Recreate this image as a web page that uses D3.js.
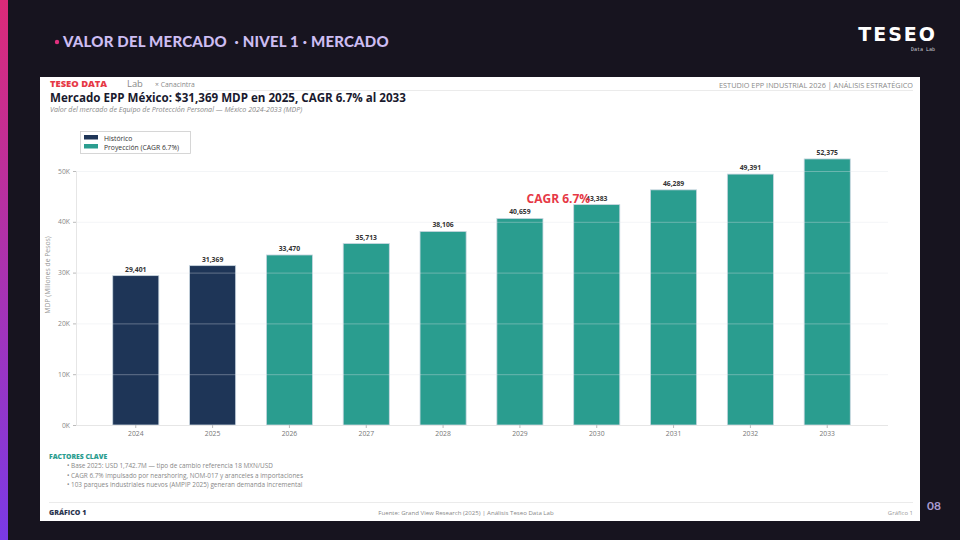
<!DOCTYPE html>
<html><head><meta charset="utf-8">
<script src="https://cdn.jsdelivr.net/npm/d3@7"></script>
<style>
html,body{margin:0;padding:0;background:#17141f;}
svg{display:block;}
</style></head>
<body>
<svg id="c" width="960" height="540"></svg>
<script>
const years = ["2024","2025","2026","2027","2028","2029","2030","2031","2032","2033"];
const values = [29401,31369,33470,35713,38106,40659,43383,46289,49391,52375];
const seriesType = ["Histórico","Histórico","Proyección","Proyección","Proyección","Proyección","Proyección","Proyección","Proyección","Proyección"];
const legendLabels = ["Histórico","Proyección (CAGR 6.7%)"];
const yTicks = [0,10000,20000,30000,40000,50000];
const factores = [
  "• Base 2025: USD 1,742.7M — tipo de cambio referencia 18 MXN/USD",
  "• CAGR 6.7% impulsado por nearshoring, NOM-017 y aranceles a importaciones",
  "• 103 parques industriales nuevos (AMPIP 2025) generan demanda incremental"
];
const colors = {"Histórico":"#1e3557","Proyección":"#2a9d8f"};

const svg = d3.select("#c");
const defs = svg.append("defs");
const lg = defs.append("linearGradient").attr("id","strip").attr("x1",0).attr("y1",0).attr("x2",0).attr("y2",1);
lg.append("stop").attr("offset","0%").attr("stop-color","#dc2a78");
lg.append("stop").attr("offset","100%").attr("stop-color","#7a3ae6");

svg.append("rect").attr("width",960).attr("height",540).attr("fill","#17141f");
svg.append("rect").attr("x",0).attr("y",0).attr("width",8).attr("height",540).attr("fill","url(#strip)");

// top header
svg.append("circle").attr("cx",57).attr("cy",42).attr("r",2.2).attr("fill","#e0307e");
svg.append("text").attr("x",63).attr("y",47).text("VALOR DEL MERCADO  · NIVEL 1 · MERCADO")
  .attr("font-family","Lato, 'Open Sans', sans-serif").attr("font-weight",900).attr("font-size",15)
  .attr("letter-spacing",0.2).attr("fill","#cdbdf2").style("white-space","pre");
svg.append("text").attr("x",937).attr("y",41).attr("text-anchor","end").text("TESEO")
  .attr("font-family","'DejaVu Sans', sans-serif").attr("font-weight",700).attr("font-size",19)
  .attr("letter-spacing",2).attr("fill","#ffffff");
svg.append("text").attr("x",935).attr("y",51).attr("text-anchor","end").text("Data Lab")
  .attr("font-family","'DejaVu Sans Mono', monospace").attr("font-size",5).attr("fill","#cfcfd8");
svg.append("text").attr("x",941).attr("y",510).attr("text-anchor","end").text("08")
  .attr("font-family","Lato, sans-serif").attr("font-weight",700).attr("font-size",12).attr("fill","#a89bd0");

// white panel
svg.append("rect").attr("x",40).attr("y",77).attr("width",880).attr("height",444).attr("fill","#ffffff");

const F = "'Open Sans', 'Noto Sans', sans-serif";
svg.append("text").attr("x",50).attr("y",87).text("TESEO DATA").attr("font-family",F)
  .attr("font-weight",800).attr("font-size",9.4).attr("fill","#e63946");
svg.append("text").attr("x",127).attr("y",87).text("Lab").attr("font-family",F)
  .attr("font-size",9.4).attr("fill","#888");
svg.append("text").attr("x",155).attr("y",86.5).text("× Canacintra").attr("font-family",F)
  .attr("font-size",6.8).attr("fill","#888");
svg.append("text").attr("x",913).attr("y",88).attr("text-anchor","end")
  .text("ESTUDIO EPP INDUSTRIAL 2026 | ANÁLISIS ESTRATÉGICO").attr("font-family",F)
  .attr("font-size",7.3).attr("fill","#888");
svg.append("line").attr("x1",205).attr("x2",913).attr("y1",90.5).attr("y2",90.5).attr("stroke","#e6e6e6").attr("stroke-width",0.8);
svg.append("text").attr("x",50).attr("y",101.5).text("Mercado EPP México: $31,369 MDP en 2025, CAGR 6.7% al 2033")
  .attr("font-family",F).attr("font-weight",700).attr("font-size",11.6).attr("fill","#1a1a2e");
svg.append("text").attr("x",50).attr("y",111.5).text("Valor del mercado de Equipo de Protección Personal — México 2024-2033 (MDP)")
  .attr("font-family",F).attr("font-style","italic").attr("font-size",7.1).attr("fill","#888");

// chart
const x = d3.scaleBand().domain(years).range([82,881]).padding(0.4);
const y = d3.scaleLinear().domain([0,50000]).range([425,171]);
const gridX0 = 76, gridX1 = 888;

svg.append("g").selectAll("rect").data(years).join("rect")
  .attr("x",d=>x(d)).attr("width",x.bandwidth())
  .attr("y",(d,i)=>y(values[i])).attr("height",(d,i)=>y(0)-y(values[i]))
  .attr("fill",(d,i)=>colors[seriesType[i]])
  .attr("stroke","#c9d6e0").attr("stroke-width",0.8);

// grid on top
svg.append("g").selectAll("line").data(yTicks).join("line")
  .attr("x1",gridX0).attr("x2",gridX1).attr("y1",d=>y(d)+0.5).attr("y2",d=>y(d)+0.5)
  .attr("stroke","#dde2e8").attr("stroke-opacity",0.45).attr("stroke-width",0.8);

// y axis
const yAxis = d3.axisLeft(y).tickValues(yTicks).tickFormat(d=>(d/1000)+"K").tickSize(3).tickPadding(3);
const ga = svg.append("g").attr("transform",`translate(${gridX0},0)`).call(yAxis);
ga.select(".domain").attr("stroke","#e6e6e6");
ga.selectAll(".tick line").attr("stroke","#bbb");
ga.selectAll("text").attr("font-family",F).attr("font-size",6.8).attr("fill","#888");

// x axis
const xAxis = d3.axisBottom(x).tickSize(3).tickPadding(3);
const gx = svg.append("g").attr("transform",`translate(0,425)`).call(xAxis);
gx.select(".domain").attr("d",`M${gridX0},0.5H${gridX1}`).attr("stroke","#e6e6e6");
gx.selectAll(".tick line").attr("stroke","#bbb");
gx.selectAll("text").attr("font-family",F).attr("font-size",6.8).attr("fill","#777");

svg.append("text").attr("transform","translate(50,275) rotate(-90)").attr("text-anchor","middle")
  .text("MDP (Millones de Pesos)").attr("font-family",F).attr("font-size",6.8).attr("fill","#999");

// value labels
svg.append("g").selectAll("text").data(years).join("text")
  .attr("x",d=>x(d)+x.bandwidth()/2).attr("y",(d,i)=>y(values[i])-4).attr("text-anchor","middle")
  .text((d,i)=>d3.format(",")(values[i])).attr("font-family",F).attr("font-weight",700)
  .attr("font-size",6.8).attr("fill","#333");

// CAGR annotation (overlaps the 2030 label as in the reference)
svg.append("text").attr("x",(x("2029")+x("2030")+x.bandwidth())/2).attr("y",203).attr("text-anchor","middle")
  .text("CAGR 6.7%").attr("font-family",F).attr("font-weight",700).attr("font-size",12).attr("fill","#e63946");

// legend
const lgG = svg.append("g");
lgG.append("rect").attr("x",80.5).attr("y",131.5).attr("width",110).attr("height",22)
  .attr("fill","#fff").attr("stroke","#ccc").attr("stroke-width",0.8);
legendLabels.forEach((l,i)=>{
  lgG.append("rect").attr("x",84).attr("y",135+i*9).attr("width",14).attr("height",4.5)
    .attr("fill",i===0?colors["Histórico"]:colors["Proyección"]);
  lgG.append("text").attr("x",104).attr("y",140.5+i*9).text(l).attr("font-family",F)
    .attr("font-size",6.8).attr("fill","#333");
});

// factores clave
svg.append("text").attr("x",49).attr("y",459).text("FACTORES CLAVE").attr("font-family",F)
  .attr("font-weight",800).attr("font-size",6.8).attr("fill","#2a9d8f");
svg.append("g").selectAll("text").data(factores).join("text")
  .attr("x",67).attr("y",(d,i)=>468+i*9.5).text(d=>d).attr("font-family",F)
  .attr("font-size",6.4).attr("fill","#888");

// footer
svg.append("line").attr("x1",49).attr("x2",913).attr("y1",502.5).attr("y2",502.5).attr("stroke","#e6e6e6").attr("stroke-width",0.8);
svg.append("text").attr("x",49).attr("y",515).text("GRÁFICO 1").attr("font-family",F)
  .attr("font-weight",800).attr("font-size",7).attr("fill","#2b3550");
svg.append("text").attr("x",466).attr("y",515).attr("text-anchor","middle")
  .text("Fuente: Grand View Research (2025) | Análisis Teseo Data Lab").attr("font-family",F)
  .attr("font-size",6.1).attr("fill","#888");
svg.append("text").attr("x",913).attr("y",515).attr("text-anchor","end").text("Gráfico 1")
  .attr("font-family",F).attr("font-size",6).attr("fill","#999");
</script>
</body></html>
